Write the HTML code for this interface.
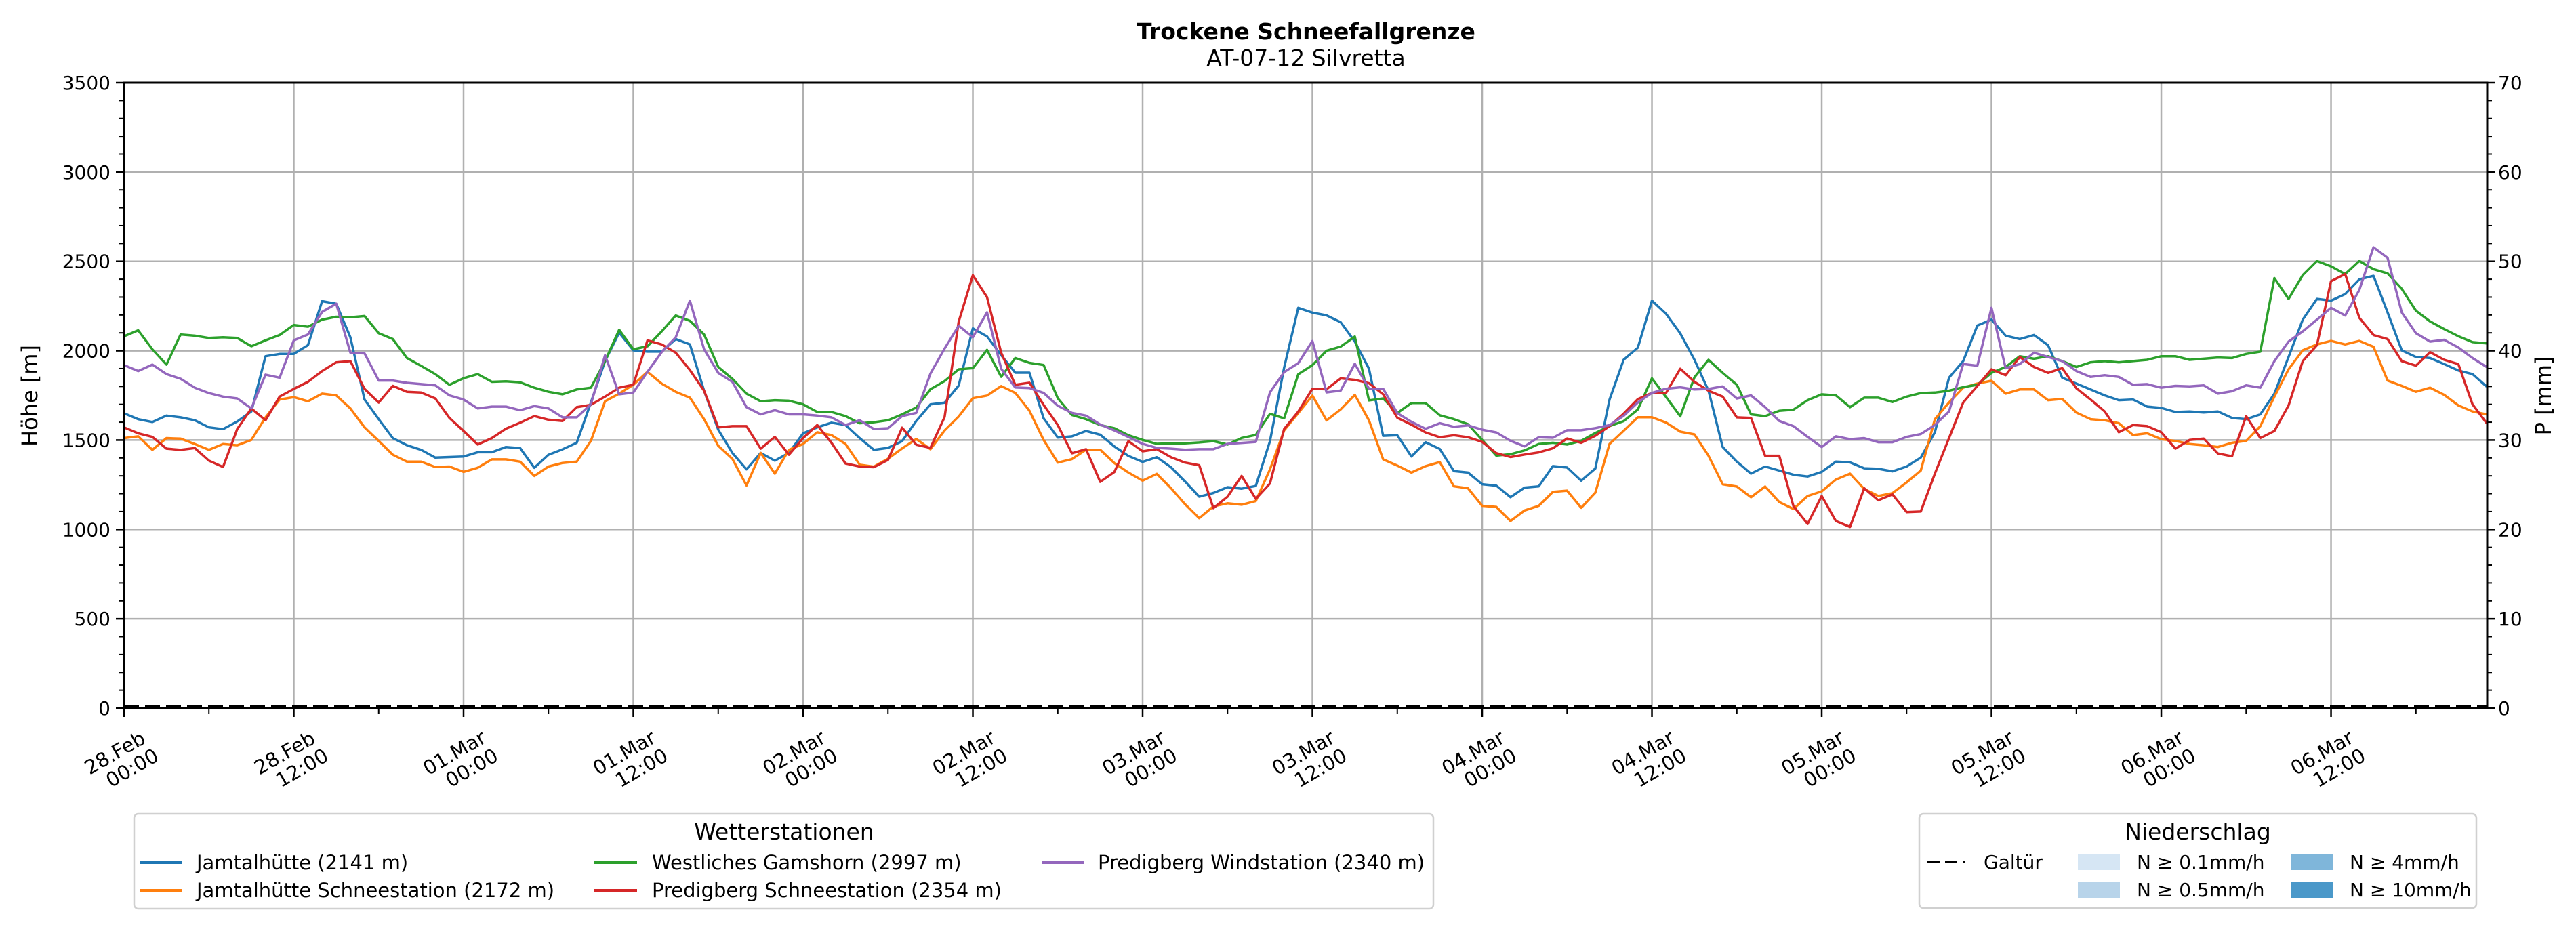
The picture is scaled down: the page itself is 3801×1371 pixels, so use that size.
<!DOCTYPE html>
<html><head><meta charset="utf-8"><style>
html,body{margin:0;padding:0;background:#fff;}
svg{display:block;font-family:"DejaVu Sans","Liberation Sans",sans-serif;}
</style></head><body>
<svg id="chart" width="3801" height="1371" viewBox="0 0 3801 1371" xmlns="http://www.w3.org/2000/svg">
<rect x="0" y="0" width="3801" height="1371" fill="#fff"/>
<text x="1927" y="58" text-anchor="middle" font-size="33" font-weight="bold">Trockene Schneefallgrenze</text>
<text x="1927" y="97" text-anchor="middle" font-size="33">AT-07-12 Silvretta</text>
<g id="grid"></g>
<g id="series"></g>
<g id="axes"></g>
<text transform="translate(55,584) rotate(-90)" text-anchor="middle" font-size="32">Höhe [m]</text>
<text transform="translate(3764,584) rotate(-90)" text-anchor="middle" font-size="32">P [mm]</text>

<g>
<rect x="198" y="1201" width="1917" height="140" rx="6" fill="#fff" stroke="#d0d0d0" stroke-width="2.5"/>
<text x="1157" y="1239" text-anchor="middle" font-size="33">Wetterstationen</text>
<g><line x1="207" y1="1273" x2="268" y2="1273" stroke="#1f77b4" stroke-width="4"/><text x="290" y="1283" font-size="29">Jamtalhütte (2141 m)</text></g>
<g><line x1="207" y1="1314" x2="268" y2="1314" stroke="#ff7f0e" stroke-width="4"/><text x="290" y="1324" font-size="29">Jamtalhütte Schneestation (2172 m)</text></g>
<g><line x1="877" y1="1273" x2="940" y2="1273" stroke="#2ca02c" stroke-width="4"/><text x="962" y="1283" font-size="29">Westliches Gamshorn (2997 m)</text></g>
<g><line x1="877" y1="1314" x2="940" y2="1314" stroke="#d62728" stroke-width="4"/><text x="962" y="1324" font-size="29">Predigberg Schneestation (2354 m)</text></g>
<g><line x1="1537" y1="1273" x2="1600" y2="1273" stroke="#9467bd" stroke-width="4"/><text x="1620" y="1283" font-size="29">Predigberg Windstation (2340 m)</text></g>
</g>

<g>
<rect x="2832" y="1201" width="822" height="139" rx="6" fill="#fff" stroke="#d0d0d0" stroke-width="2.5"/>
<text x="3243" y="1239" text-anchor="middle" font-size="33">Niederschlag</text>
<g><line x1="2844" y1="1272" x2="2900" y2="1272" stroke="#000" stroke-width="4" stroke-dasharray="18,8"/><text x="2927" y="1282" font-size="28">Galtür</text></g>
<g><rect x="3066" y="1260" width="62" height="24" fill="#d6e6f4"/><text x="3153" y="1282" font-size="28">N ≥ 0.1mm/h</text></g>
<g><rect x="3066" y="1301" width="62" height="24" fill="#b8d4ea"/><text x="3153" y="1323" font-size="28">N ≥ 0.5mm/h</text></g>
<g><rect x="3381" y="1260" width="62" height="24" fill="#7fb6da"/><text x="3467" y="1282" font-size="28">N ≥ 4mm/h</text></g>
<g><rect x="3381" y="1301" width="62" height="24" fill="#4a98c9"/><text x="3467" y="1323" font-size="28">N ≥ 10mm/h</text></g>
</g>
</svg>
<script>
const hoursTotal = 167;
const yTicks = [0,500,1000,1500,2000,2500,3000,3500];
const y2Ticks = [0,10,20,30,40,50,60,70];
const xTickHours = [0,12,24,36,48,60,72,84,96,108,120,132,144,156];
const xTickDates = ["28.Feb","28.Feb","01.Mar","01.Mar","02.Mar","02.Mar","03.Mar","03.Mar","04.Mar","04.Mar","05.Mar","05.Mar","06.Mar","06.Mar"];
const xTickTimes = ["00:00","12:00","00:00","12:00","00:00","12:00","00:00","12:00","00:00","12:00","00:00","12:00","00:00","12:00"];
const jamtal = [1650,1617,1601,1637,1627,1611,1571,1561,1604,1660,1969,1982,1982,2031,2277,2263,2075,1727,1617,1511,1471,1445,1402,1405,1408,1432,1432,1461,1455,1345,1418,1448,1485,1710,1942,2101,2002,1995,1995,2065,2035,1776,1558,1428,1336,1428,1385,1428,1538,1571,1597,1584,1511,1445,
1456,1494,1607,1700,1709,1805,2125,2080,1975,1877,1877,1622,1514,1521,1551,1530,1464,1411,1378,1404,1348,1268,1183,1204,1236,1228,1243,1494,1905,
2240,2213,2198,2159,2051,1899,1524,1527,1408,1488,1450,1326,1318,1253,1245,1180,1234,1241,1354,1346,1273,1341,1726,1950,2017,2280,2206,2097,1950,
1776,1461,1379,1312,1352,1329,1306,1296,1322,1379,1375,1342,1339,1325,1352,1402,1544,1849,1942,2141,2174,2084,2065,2088,2031,1849,1816,1783,1750,1723,1727,1687,1680,1657,1660,1654,1660,1624,1617,1644,1760,1965,2174,2290,2280,2317,2399,2419,2214,2002,1965,1959,1925,1889,1869,1799];
const jamtalSchnee = [1511,1521,1445,1511,1508,1478,1445,1478,1471,1501,1627,1727,1740,1717,1760,1750,1677,1571,1495,1418,1379,1379,1349,1352,1322,1345,1392,1392,1379,1299,1352,1372,1379,1495,1717,1760,1809,1882,1816,1770,1737,1617,1468,1395,1246,1428,1312,1445,1478,1544,1528,1478,1362,1351,
1396,1453,1506,1449,1554,1632,1734,1749,1802,1764,1664,1501,1374,1393,1446,1446,1371,1318,1273,1311,1231,1141,1063,1129,1146,1138,1159,1336,1554,
1651,1749,1610,1672,1753,1610,1392,1357,1318,1354,1377,1241,1230,1132,1126,1047,1106,1132,1210,1217,1121,1206,1478,1552,1628,1628,1598,1547,1532,
1412,1253,1240,1180,1240,1153,1114,1187,1213,1279,1312,1226,1187,1203,1263,1329,1617,1710,1793,1816,1832,1760,1783,1783,1723,1730,1654,1617,1611,1594,1528,1538,1505,1495,1478,1471,1461,1485,1495,1578,1743,1896,2002,2035,2055,2035,2055,2022,1833,1803,1770,1793,1753,1694,1660,1644];
const gamshorn = [2081,2114,2008,1922,2091,2084,2071,2075,2071,2025,2058,2088,2144,2134,2174,2190,2187,2194,2098,2065,1959,1915,1869,1809,1846,1869,1826,1829,1823,1793,1770,1756,1783,1793,1942,2117,2008,2025,2108,2197,2167,2091,1909,1843,1760,1717,1723,1720,1700,1657,1657,1634,1594,1600,
1611,1644,1682,1784,1830,1896,1902,2005,1854,1959,1932,1920,1734,1640,1617,1584,1566,1527,1501,1479,1482,1482,1487,1494,1475,1512,1529,1647,1622,
1868,1919,2000,2023,2079,1722,1733,1651,1707,1707,1639,1617,1589,1501,1413,1421,1442,1478,1485,1475,1496,1540,1578,1606,1671,1845,1741,1633,1851,
1949,1876,1809,1644,1634,1664,1670,1723,1756,1750,1684,1737,1737,1713,1743,1763,1766,1776,1796,1809,1876,1909,1969,1955,1969,1942,1909,1935,1942,1935,1942,1949,1969,1969,1949,1955,1962,1959,1982,1995,2406,2290,2423,2502,2472,2429,2502,2456,2433,2346,2224,2164,2121,2081,2048,2041];
const predigSchnee = [1571,1538,1518,1452,1445,1455,1385,1349,1561,1677,1611,1743,1786,1826,1886,1935,1942,1786,1710,1803,1770,1766,1733,1624,1551,1475,1511,1564,1597,1634,1614,1607,1684,1697,1743,1793,1809,2058,2035,1989,1892,1776,1571,1578,1578,1452,1518,1418,1511,1584,1485,1369,1352,1348,
1389,1569,1474,1456,1629,2162,2422,2300,1989,1809,1821,1697,1584,1426,1449,1266,1321,1494,1437,1449,1404,1374,1359,1119,1183,1299,1171,1257,1562,
1659,1787,1784,1845,1837,1818,1756,1625,1586,1543,1516,1527,1516,1490,1427,1405,1419,1431,1454,1509,1485,1524,1578,1648,1729,1764,1764,1899,1826,
1776,1743,1627,1624,1412,1412,1130,1031,1187,1047,1014,1230,1163,1196,1097,1100,1312,1511,1710,1803,1896,1863,1965,1909,1876,1902,1790,1727,1660,1544,1584,1578,1544,1452,1501,1508,1425,1409,1634,1511,1551,1694,1942,2031,2389,2429,2184,2088,2065,1942,1916,1992,1949,1925,1700,1594];
const predigWind = [1919,1886,1922,1869,1843,1793,1763,1743,1733,1677,1866,1849,2058,2091,2217,2263,1989,1985,1833,1833,1820,1813,1806,1750,1727,1677,1687,1687,1667,1690,1677,1627,1627,1700,1975,1756,1766,1882,1992,2075,2280,2008,1876,1826,1684,1644,1667,1644,1644,1637,1627,1584,1611,1562,
1566,1634,1652,1872,2012,2140,2075,2215,1899,1794,1791,1764,1692,1652,1637,1587,1554,1517,1479,1456,1452,1446,1449,1449,1479,1484,1490,1767,1880,
1930,2054,1767,1777,1927,1787,1787,1651,1602,1563,1594,1574,1582,1558,1543,1496,1465,1516,1513,1555,1555,1567,1583,1636,1710,1764,1787,1795,1783,
1786,1800,1733,1750,1684,1607,1578,1518,1461,1521,1505,1511,1488,1488,1518,1534,1584,1660,1925,1916,2240,1902,1925,1989,1965,1942,1886,1853,1863,1853,1809,1813,1793,1803,1800,1806,1760,1773,1806,1793,1942,2051,2108,2174,2240,2197,2340,2578,2519,2214,2098,2051,2061,2018,1959,1909];
const galtuerPrecip = new Array(168).fill(0);

const NS = "http://www.w3.org/2000/svg";
const L = 183, R = 3670, T = 122, B = 1045;
const yMax = 3500, y2Max = 70;
function xs(h){ return L + h * (R - L) / 167.04; }
function ys(v){ return B - v / yMax * (B - T); }
function ys2(v){ return B - v / y2Max * (B - T); }
function mk(tag, attrs, parent){ const e = document.createElementNS(NS, tag); for (const k in attrs) e.setAttribute(k, attrs[k]); parent.appendChild(e); return e; }
const grid = document.getElementById('grid');
const axes = document.getElementById('axes');
const series = document.getElementById('series');

yTicks.forEach((v, i) => {
  const y = ys(v);
  const gl = mk('line', {x1:L, x2:R, y1:y, y2:y, stroke:'#b0b0b0', 'stroke-width':2.5}, grid);
  
  
  mk('line', {x1:L-12, x2:L, y1:y, y2:y, stroke:'#000', 'stroke-width':2.5}, axes);
  const t = mk('text', {x:L-20, y:y+10, 'text-anchor':'end', 'font-size':28}, axes);
  t.textContent = v;
  
  
});
for (let v = 0; v <= yMax; v += 100) {
  if (v % 500 === 0) continue;
  mk('line', {x1:L-7, x2:L, y1:ys(v), y2:ys(v), stroke:'#000', 'stroke-width':2}, axes);
}
y2Ticks.forEach(v => {
  const y = ys2(v);
  mk('line', {x1:R, x2:R+12, y1:y, y2:y, stroke:'#000', 'stroke-width':2.5}, axes);
  const t = mk('text', {x:R+16, y:y+10, 'text-anchor':'start', 'font-size':28}, axes);
  t.textContent = v;
  
  
});
for (let v = 0; v <= y2Max; v += 2) {
  if (v % 10 === 0) continue;
  mk('line', {x1:R, x2:R+7, y1:ys2(v), y2:ys2(v), stroke:'#000', 'stroke-width':2}, axes);
}
xTickHours.forEach((h, i) => {
  const x = xs(h);
  const gl = mk('line', {x1:x, x2:x, y1:T, y2:B, stroke:'#b0b0b0', 'stroke-width':2.5}, grid);
  
  
  mk('line', {x1:x, x2:x, y1:B, y2:B+13, stroke:'#000', 'stroke-width':2.5}, axes);
  const cx = x - 6, cy = 1124;
  const t = mk('text', {'text-anchor':'middle', 'font-size':29, transform:'translate('+cx+','+cy+') rotate(-30)'}, axes);
  
  
  const a = mk('tspan', {x:0, y:-5}, t); a.textContent = xTickDates[i];
  const b = mk('tspan', {x:11, y:27}, t); b.textContent = xTickTimes[i];
});
for (let h = 6; h < hoursTotal; h += 12) {
  mk('line', {x1:xs(h), x2:xs(h), y1:B, y2:B+8, stroke:'#000', 'stroke-width':2}, axes);
}

const seriesList = [
  ['jamtal-line', jamtal, '#1f77b4'],
  ['jamtal-schnee-line', jamtalSchnee, '#ff7f0e'],
  ['gamshorn-line', gamshorn, '#2ca02c'],
  ['predigberg-schnee-line', predigSchnee, '#d62728'],
  ['predigberg-wind-line', predigWind, '#9467bd']
];
seriesList.forEach(s => {
  const pts = s[1].map((v, h) => xs(h).toFixed(1) + ',' + ys(v).toFixed(1)).join(' ');
  const p = mk('polyline', {points:pts, fill:'none', stroke:s[2], 'stroke-width':3.5, 'stroke-linejoin':'round'}, series);
  
  
});
const gp = galtuerPrecip.map((v, h) => xs(h).toFixed(1) + ',' + (ys2(v) - 2).toFixed(1)).join(' ');
const gl = mk('polyline', {points:gp, fill:'none', stroke:'#000', 'stroke-width':4, 'stroke-dasharray':'22,9'}, series);



const frame = mk('rect', {x:L, y:T, width:R-L, height:B-T, fill:'none', stroke:'#000', 'stroke-width':3}, axes);


</script>
</body></html>
